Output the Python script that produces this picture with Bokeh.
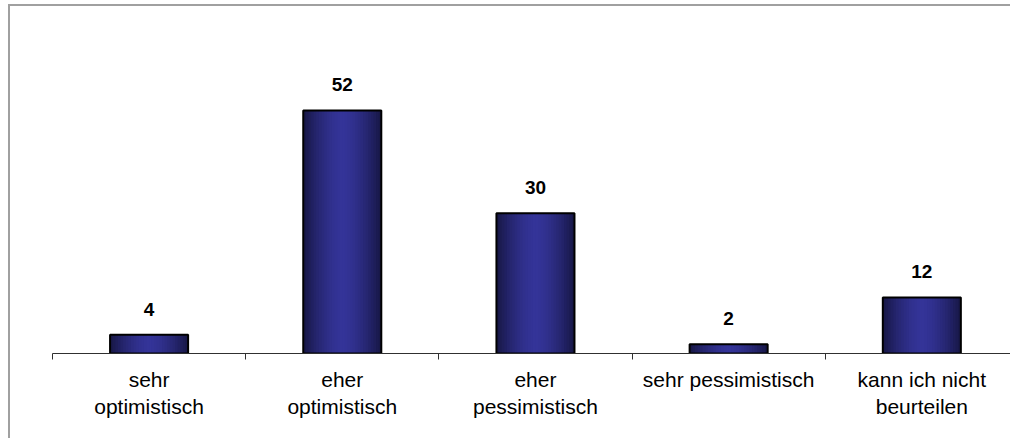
from bokeh.plotting import figure
from bokeh.models import ColumnDataSource, Range1d, FixedTicker, LabelSet, InlineStyleSheet
from bokeh.core.properties import value
from bokeh.embed import file_html
from bokeh.resources import INLINE

categories = ["sehr optimistisch", "eher optimistisch", "eher pessimistisch",
              "sehr pessimistisch", "kann ich nicht beurteilen"]
tick_labels = ["sehr\noptimistisch", "eher\noptimistisch", "eher\npessimistisch",
               "sehr pessimistisch", "kann ich nicht\nbeurteilen"]
values = [4, 52, 30, 2, 12]

BAR_W = 0.404
N_STRIPS = 30
EDGE = (22, 22, 68)
CENTER = (52, 52, 152)

xs = [i + 0.5 for i in range(len(categories))]

# gradient strips built from the data (overlapping to avoid seams)
sl, sr, st, sc = [], [], [], []
for x, v in zip(xs, values):
    left = x - BAR_W / 2
    right = x + BAR_W / 2
    sw = BAR_W / N_STRIPS
    for j in range(N_STRIPS):
        t = abs((j + 0.5) / N_STRIPS - 0.5) * 2
        f = t ** 1.6
        col = tuple(int(round(CENTER[k] * (1 - f) + EDGE[k] * f)) for k in range(3))
        sl.append(left + j * sw)
        sr.append(min(left + (j + 2.5) * sw, right))
        st.append(v)
        sc.append("#%02x%02x%02x" % col)
strips = ColumnDataSource(dict(left=sl, right=sr, top=st, color=sc))

src = ColumnDataSource(dict(x=xs, top=values, label=[str(v) for v in values]))

frame_css = InlineStyleSheet(css=""":host {
  background:
    linear-gradient(#a0a0a0, #a0a0a0) 8px 4px / 2px 600px no-repeat,
    linear-gradient(#a0a0a0, #a0a0a0) 8px 4px / 1100px 2px no-repeat,
    #ffffff;
}""")

p = figure(width=1010, height=438, output_backend="svg", toolbar_location=None,
           x_range=Range1d(0, 4.959), y_range=Range1d(0, 72.1),
           min_border_left=52, min_border_right=0, min_border_top=16,
           min_border_bottom=85,
           border_fill_color=None, background_fill_color=None,
           stylesheets=[frame_css])

p.quad(left="left", right="right", top="top", bottom=0, color="color",
       line_color=None, source=strips)
p.vbar(x="x", top="top", bottom=0, width=BAR_W, fill_color=None,
       line_color="black", line_width=2, source=src)

labels = LabelSet(x="x", y="top", text="label", source=src, y_offset=19,
                  text_align="center", text_baseline="bottom",
                  text_font=value("Liberation Sans"),
                  text_font_style="bold",
                  text_font_size=value("19px"), text_color="black")
p.add_layout(labels)

p.xgrid.visible = False
p.ygrid.visible = False
p.yaxis.visible = False
p.outline_line_color = None

ax = p.xaxis[0]
ax.ticker = FixedTicker(ticks=xs, minor_ticks=list(range(len(categories) + 1)))
ax.major_label_overrides = {x: lab for x, lab in zip(xs, tick_labels)}
ax.major_tick_out = 0
ax.major_tick_in = 0
ax.minor_tick_out = 6
ax.minor_tick_in = 0
ax.minor_tick_line_color = "#303030"
ax.axis_line_color = "#303030"
ax.axis_line_width = 1
ax.major_label_text_font = "Liberation Sans"
ax.major_label_text_font_size = "21px"
ax.major_label_text_color = "black"
ax.major_label_standoff = 8
ax.major_label_orientation = "horizontal"

open("out.html", "w").write(file_html(p, INLINE))
